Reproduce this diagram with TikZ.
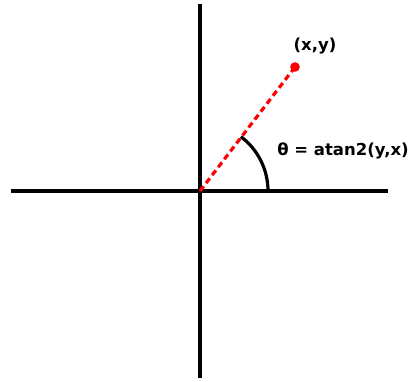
\documentclass[tikz,border=0pt]{standalone}
\usepackage{fontspec}
\setmainfont{DejaVu Sans}
\usetikzlibrary{calc,arrows.meta}

\begin{document}
\begin{tikzpicture}[x=1pt,y=-1pt,line width=3.2pt,
	lbl/.style={font=\bfseries\fontsize{16.5}{19}\selectfont,inner sep=0pt}]
	\useasboundingbox(0,0)rectangle(412,381);
	\coordinate(O)at(200,191);
	\coordinate(P)at(295,67);
	\draw(11,191)coordinate(W)--(388,191)coordinate(E) (200,4)coordinate(N)--(200,378)coordinate(S);
	\draw[red,dash pattern=on 6pt off 4pt](O)--(P);
	\fill[red](P)circle(4.8);
	\node[lbl](pt)at(315,46){(x,y)};
	\draw(268,191)arc(0:-53:68);
	\node[lbl](th)at(343,151){θ = atan2(y,x)};
\end{tikzpicture}
\end{document}
